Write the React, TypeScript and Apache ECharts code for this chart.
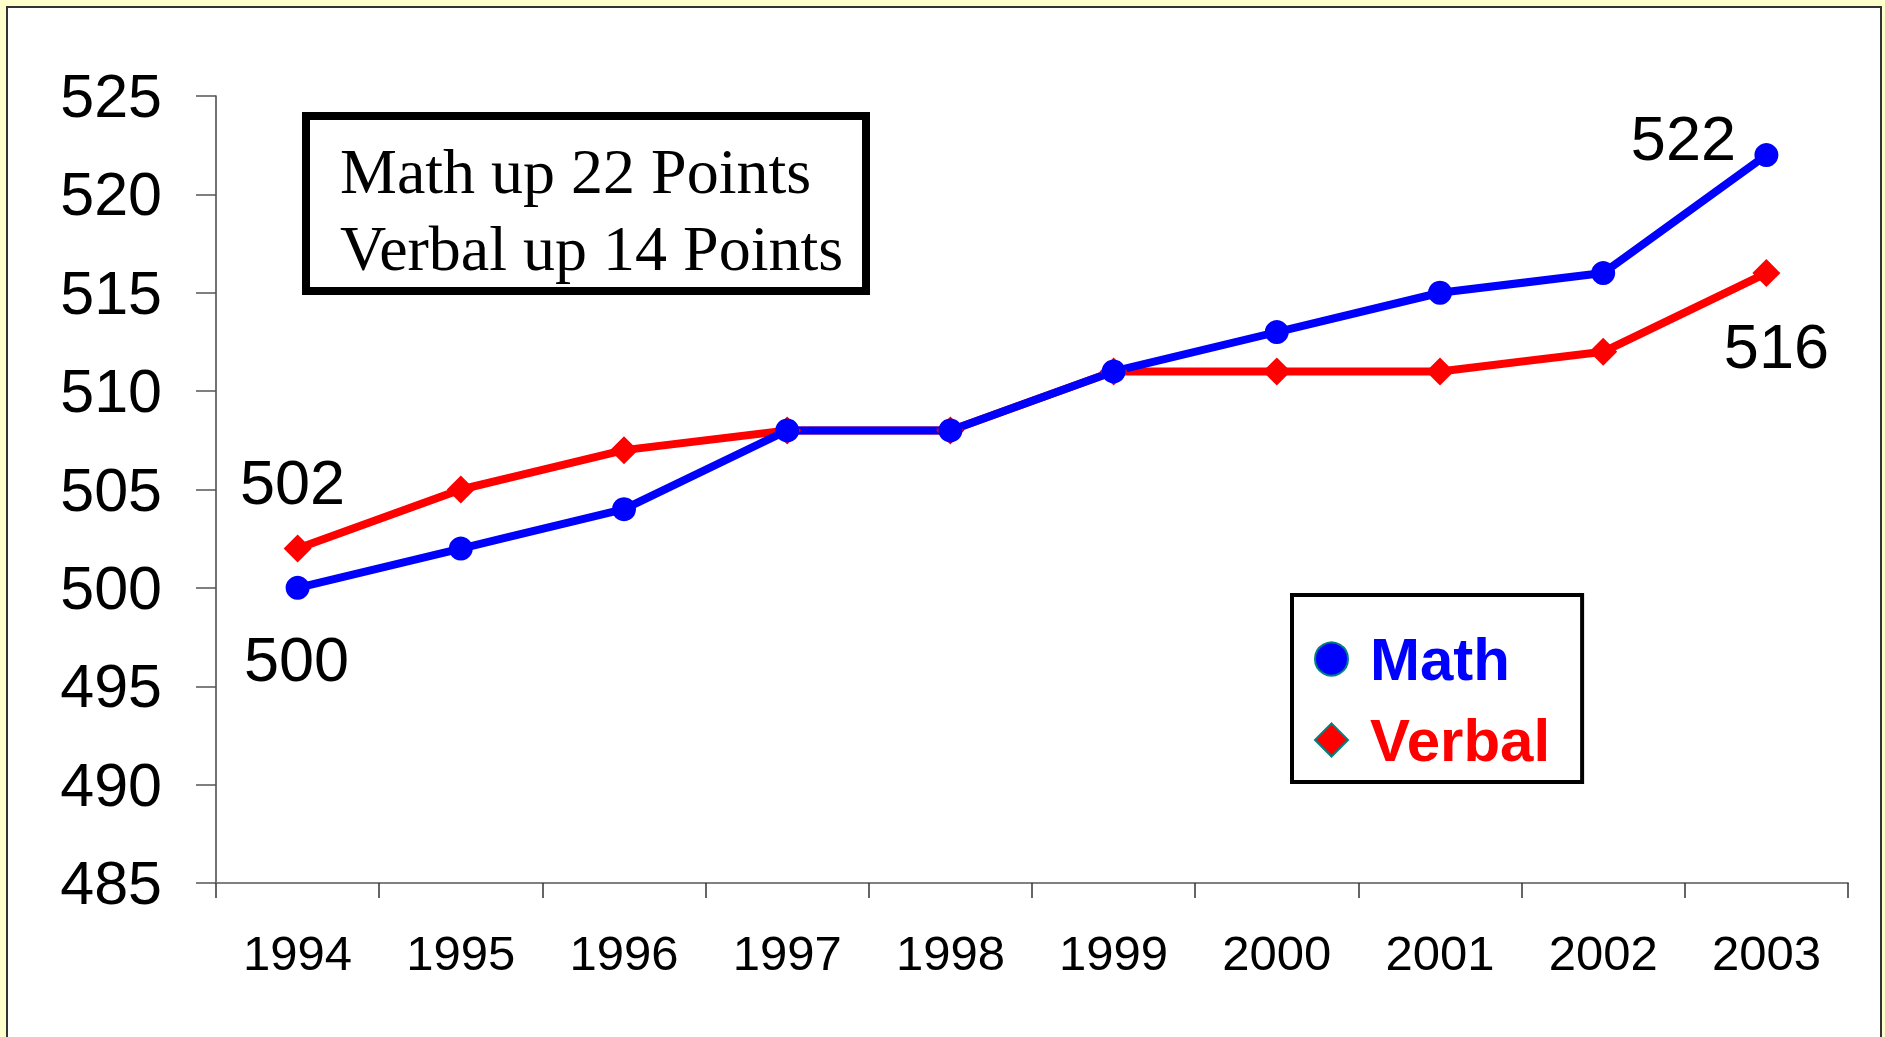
import React, { useEffect, useRef } from "react";
import * as echarts from "echarts";

const years = ["1994", "1995", "1996", "1997", "1998", "1999", "2000", "2001", "2002", "2003"];
const mathScores = [500, 502, 504, 508, 508, 511, 513, 515, 516, 522];
const verbalScores = [502, 505, 507, 508, 508, 511, 511, 511, 512, 516];
const yMin = 485;
const yMax = 525;
const yStep = 5;
const noteLines = ["Math up 22 Points", "Verbal up 14 Points"];

// label offsets (style only) for annotated points
const mathLabelOffsets: Record<number, [number, number]> = { 0: [-1, 71], 9: [-83, -17] };
const verbalLabelOffsets: Record<number, [number, number]> = { 0: [-5, -67], 9: [10, 73] };

const SANS = "Arial, 'Liberation Sans', sans-serif";
const SERIF = "'Times New Roman', 'Liberation Serif', serif";

function withLabels(values: number[], offsets: Record<number, [number, number]>) {
  return values.map((v, i) =>
    offsets[i]
      ? {
          value: v,
          label: {
            show: true,
            position: "inside",
            offset: offsets[i],
            formatter: String(v),
            color: "#000",
            fontSize: 63,
            fontFamily: SANS,
          },
        }
      : v
  );
}

export default function App() {
  const ref = useRef<HTMLDivElement>(null);
  useEffect(() => {
    if (!ref.current) return;
    const chart = echarts.init(ref.current, undefined, { renderer: "svg" });
    chart.setOption({
      animation: false,
      backgroundColor: "#FFFFCC",
      grid: { left: 216, top: 96, right: 37, bottom: 154, containLabel: false },
      xAxis: {
        type: "category",
        data: years,
        boundaryGap: true,
        axisLine: { lineStyle: { color: "#808080", width: 2 } },
        axisTick: { show: true, length: 15, inside: false, lineStyle: { color: "#333", width: 1.5 } },
        axisLabel: { color: "#000", fontSize: 49, fontFamily: SANS, margin: 45 },
        splitLine: { show: false },
      },
      yAxis: {
        type: "value",
        min: yMin,
        max: yMax,
        interval: yStep,
        axisLine: { show: true, lineStyle: { color: "#444", width: 1.5 } },
        axisTick: { show: true, length: 20, inside: false, lineStyle: { color: "#555", width: 1.5 } },
        axisLabel: { color: "#000", fontSize: 61, fontFamily: SANS, margin: 54 },
        splitLine: { show: false },
      },
      legend: {
        orient: "vertical",
        left: 1292,
        top: 595,
        padding: [34, 32, 12, 22],
        itemWidth: 33,
        itemHeight: 33,
        itemGap: 21,
        backgroundColor: "#fff",
        borderColor: "#000",
        borderWidth: 4,
        selectedMode: false,
        textStyle: {
          fontSize: 60,
          lineHeight: 60,
          fontWeight: "bold",
          fontFamily: SANS,
          padding: [0, 0, 0, 17],
        },
        data: [
          {
            name: "Math",
            icon: "circle",
            itemStyle: { color: "#0000FF", borderColor: "#008080", borderWidth: 2 },
            textStyle: { color: "#0000FF" },
          },
          {
            name: "Verbal",
            icon: "diamond",
            itemStyle: { color: "#FF0000", borderColor: "#008080", borderWidth: 2 },
            textStyle: { color: "#FF0000" },
          },
        ],
      },
      graphic: [
        {
          type: "rect",
          z: -10,
          silent: true,
          shape: { x: 7, y: 7, width: 1874, height: 1045 },
          style: { fill: "#FFFFFF", stroke: "#333", lineWidth: 2 },
        },
        {
          type: "rect",
          z: 10,
          silent: true,
          shape: { x: 306, y: 116, width: 560, height: 175 },
          style: { fill: "#FFFFFF", stroke: "#000", lineWidth: 8 },
        },
        ...noteLines.map((t, i) => ({
          type: "text",
          z: 11,
          silent: true,
          x: 340,
          y: 171 + i * 77,
          style: {
            text: t,
            fill: "#000",
            fontSize: 64,
            fontFamily: SERIF,
            align: "left",
            verticalAlign: "middle",
          },
        })),
      ],
      series: [
        {
          name: "Verbal",
          type: "line",
          data: withLabels(verbalScores, verbalLabelOffsets),
          symbol: "diamond",
          symbolSize: 28,
          lineStyle: { color: "#FF0000", width: 8 },
          itemStyle: { color: "#FF0000" },
        },
        {
          name: "Math",
          type: "line",
          data: withLabels(mathScores, mathLabelOffsets),
          symbol: "circle",
          symbolSize: 24,
          lineStyle: { color: "#0000FF", width: 8 },
          itemStyle: { color: "#0000FF" },
        },
      ],
    });
    return () => chart.dispose();
  }, []);
  return (
    <div
      ref={ref}
      style={{ position: "absolute", left: 0, top: 0, width: 1885, height: 1037 }}
    />
  );
}
